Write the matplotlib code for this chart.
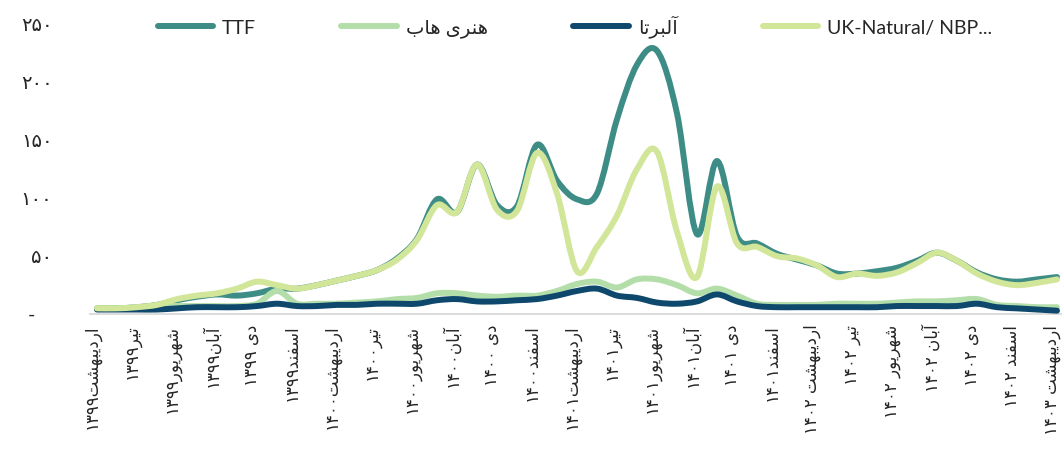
import re
import matplotlib
matplotlib.use("Agg")
import matplotlib.pyplot as plt
from matplotlib.path import Path
from matplotlib.patches import PathPatch
from matplotlib.lines import Line2D
from matplotlib.transforms import ScaledTranslation

plt.rcParams["font.family"] = ["Lato", "DejaVu Sans"]

# ---------------------------------------------------------------- data
month_labels = [
    "اردیبهشت۱۳۹۹", "تیر۱۳۹۹", "شهریور۱۳۹۹", "آبان۱۳۹۹", "دی ۱۳۹۹", "اسفند۱۳۹۹",
    "اردیبهشت۱۴۰۰", "تیر۱۴۰۰", "شهریور۱۴۰۰", "آبان۱۴۰۰", "دی ۱۴۰۰", "اسفند۱۴۰۰",
    "اردیبهشت۱۴۰۱", "تیر۱۴۰۱", "شهریور۱۴۰۱", "آبان۱۴۰۱", "دی ۱۴۰۱", "اسفند۱۴۰۱",
    "اردیبهشت ۱۴۰۲", "تیر ۱۴۰۲", "شهریور ۱۴۰۲", "آبان ۱۴۰۲", "دی ۱۴۰۲", "اسفند ۱۴۰۲",
    "اردیبهشت ۱۴۰۳",
]

ttf = [4, 4, 5, 7, 11, 14, 16, 15, 17, 21, 21, 24, 28, 32, 37, 47, 64, 98, 87, 128,
       93, 92, 145, 114, 98, 103, 167, 214, 226, 172, 68, 131, 66, 60, 51, 46, 41, 34,
       34, 36, 39, 45, 52, 45, 35, 29, 27, 29, 31]
hub = [4, 4, 5, 6, 6, 6, 6, 6, 8, 19, 8, 8, 8, 9, 10, 12, 13, 17, 17, 15,
       14, 15, 15, 19, 25, 27, 22, 29, 29, 24, 17, 21, 15, 8, 7, 7, 7, 8,
       8, 8, 9, 10, 10, 11, 12, 7, 6, 5, 5]
alberta = [3, 3, 3, 3, 4, 5, 5, 5, 6, 8, 6, 6, 7, 7, 8, 8, 8, 11, 12, 10,
           10, 11, 12, 15, 19, 21, 15, 13, 9, 8, 10, 16, 10, 6, 5, 5, 5, 5,
           5, 5, 6, 6, 6, 6, 8, 5, 4, 3, 2]
nbp = [4, 4, 5, 7, 12, 15, 17, 21, 27, 24, 21, 24, 28, 32, 37, 46, 63, 93, 87, 128,
       89, 88, 138, 103, 36, 57, 84, 124, 139, 70, 31, 109, 60, 57, 49, 47, 41, 31,
       34, 32, 35, 43, 52, 45, 34, 27, 24, 26, 29]

series_names = ["TTF", "هنری هاب", "آلبرتا", "UK-Natural/ NBP..."]
series_values = [ttf, hub, alberta, nbp]
series_colors = ["#3E8C86", "#B3DEA9", "#0E496D", "#D2E699"]

y_ticks = [0, 50, 100, 150, 200, 250]
y_tick_labels = ["-", "۵۰", "۱۰۰", "۱۵۰", "۲۰۰", "۲۵۰"]

# ------------------------------------------------- Persian text shaping
# (isolated, final, initial, medial) presentation forms
FORMS = {
    "ا": ("\uFE8D", "\uFE8E", None, None),
    "آ": ("\uFE81", "\uFE82", None, None),
    "ب": ("\uFE8F", "\uFE90", "\uFE91", "\uFE92"),
    "ت": ("\uFE95", "\uFE96", "\uFE97", "\uFE98"),
    "د": ("\uFEA9", "\uFEAA", None, None),
    "ر": ("\uFEAD", "\uFEAE", None, None),
    "س": ("\uFEB1", "\uFEB2", "\uFEB3", "\uFEB4"),
    "ش": ("\uFEB5", "\uFEB6", "\uFEB7", "\uFEB8"),
    "ف": ("\uFED1", "\uFED2", "\uFED3", "\uFED4"),
    "ل": ("\uFEDD", "\uFEDE", "\uFEDF", "\uFEE0"),
    "ن": ("\uFEE5", "\uFEE6", "\uFEE7", "\uFEE8"),
    "ه": ("\uFEE9", "\uFEEA", "\uFEEB", "\uFEEC"),
    "و": ("\uFEED", "\uFEEE", None, None),
    "ی": ("\uFEEF", "\uFEF0", "\uFEF3", "\uFEF4"),
}


def fa(text):
    out = []
    n = len(text)
    for i, ch in enumerate(text):
        if ch not in FORMS:
            out.append(ch)
            continue
        iso, fin, ini, med = FORMS[ch]
        prev_link = i > 0 and text[i - 1] in FORMS and FORMS[text[i - 1]][2] is not None
        next_link = ini is not None and i < n - 1 and text[i + 1] in FORMS
        if prev_link and next_link:
            out.append(med)
        elif prev_link:
            out.append(fin)
        elif next_link:
            out.append(ini)
        else:
            out.append(iso)
    shaped = "".join(out)
    runs = re.findall(r"[0-9\u06F0-\u06F9]+|[^0-9\u06F0-\u06F9]", shaped)
    return "".join(reversed(runs))


def smooth_path(xs, ys):
    pts = list(zip(xs, ys))
    verts = [pts[0]]
    codes = [Path.MOVETO]
    n = len(pts)
    for i in range(n - 1):
        p0 = pts[i - 1] if i > 0 else pts[i]
        p1 = pts[i]
        p2 = pts[i + 1]
        p3 = pts[i + 2] if i + 2 < n else pts[i + 1]
        c1 = (p1[0] + (p2[0] - p0[0]) / 6, p1[1] + (p2[1] - p0[1]) / 6)
        c2 = (p2[0] - (p3[0] - p1[0]) / 6, p2[1] - (p3[1] - p1[1]) / 6)
        verts += [c1, c2, p2]
        codes += [Path.CURVE4] * 3
    return Path(verts, codes)


# ---------------------------------------------------------------- figure
W, H = 1062, 456
fig = plt.figure(figsize=(W / 100, H / 100), dpi=100)
fig.patch.set_facecolor("white")

ax = fig.add_axes([90 / W, (H - 315) / H, (W - 90) / W, (315 - 20) / H])
ax.set_facecolor("none")
ax.set_xlim(-0.35, 48.25)
ax.set_ylim(-0.86, 253.4)

lw = 4.3
x = list(range(len(ttf)))
for k, (vals, col) in enumerate(zip(series_values, series_colors)):
    patch = PathPatch(smooth_path(x, vals), facecolor="none", edgecolor=col,
                      lw=lw, capstyle="round", joinstyle="round", zorder=2 + k)
    ax.add_patch(patch)

for side in ("left", "right", "top"):
    ax.spines[side].set_visible(False)
ax.spines["bottom"].set_color("#d9d9d9")
ax.spines["bottom"].set_linewidth(1.3)

ax.set_xticks(range(0, len(ttf), 2))
ax.set_xticklabels([fa(m) for m in month_labels], rotation=90, fontsize=12,
                   color="#262626", family=["DejaVu Sans"])
ax.tick_params(axis="x", length=0, pad=7)
shift_left = ScaledTranslation(-5 / 100, 0, fig.dpi_scale_trans)
for lbl in ax.get_xticklabels():
    lbl.set_transform(lbl.get_transform() + shift_left)

ax.set_yticks(y_ticks)
ax.set_yticklabels(y_tick_labels, fontsize=14, color="#262626")
ax.tick_params(axis="y", length=0, pad=27)
zero_lbl = ax.get_yticklabels()[0]
zero_lbl.set_transform(zero_lbl.get_transform() +
                       ScaledTranslation(-17 / 100, 0, fig.dpi_scale_trans))

handles = [Line2D([0], [0], color=c, lw=lw, solid_capstyle="round") for c in series_colors]
labels = [series_names[0], fa(series_names[1]), fa(series_names[2]), series_names[3]]
fig.legend(handles, labels, loc="center", bbox_to_anchor=(575 / W, 1 - 27 / H), ncol=4,
           frameon=False, fontsize=14, handlelength=2.85, handletextpad=0.46,
           columnspacing=4.4, labelcolor="#262626")

fig.savefig("out.png", dpi=100)
